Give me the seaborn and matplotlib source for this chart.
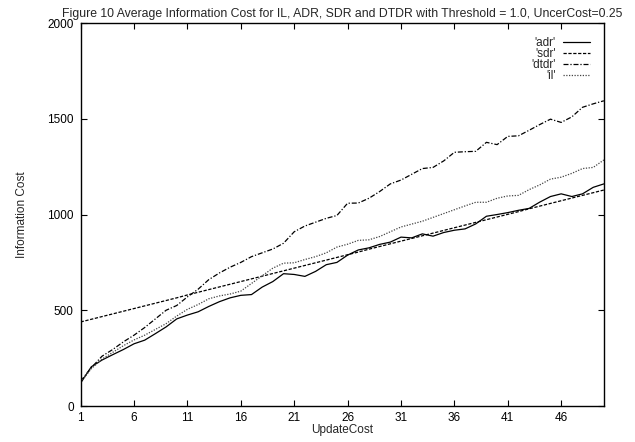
import numpy as np
import pandas as pd
import matplotlib
matplotlib.use("Agg")
import matplotlib.pyplot as plt
import seaborn as sns

# values (UpdateCost = 1..50)
update_cost = list(range(1, 51))
adr = [120, 205, 240, 268, 295, 325, 344, 378, 413, 455,
       475, 492, 520, 545, 565, 578, 582, 621, 650, 691,
       687, 677, 703, 738, 750, 788, 815, 826, 844, 856,
       882, 878, 899, 887, 906, 918, 925, 951, 991, 1000,
       1010, 1022, 1032, 1065, 1094, 1108, 1094, 1108, 1142, 1160]
sdr = [439, 453, 467, 481, 495, 509, 523, 537, 551, 565,
       580, 594, 608, 622, 636, 650, 664, 678, 692, 706,
       720, 734, 748, 762, 776, 790, 804, 819, 833, 847,
       861, 875, 889, 903, 917, 931, 945, 959, 973, 987,
       1001, 1015, 1030, 1044, 1058, 1072, 1086, 1100, 1114, 1128]
dtdr = [130, 200, 260, 295, 335, 370, 410, 455, 500, 525,
        570, 610, 660, 695, 725, 750, 780, 800, 820, 850,
        910, 940, 960, 980, 995, 1059, 1060, 1085, 1120, 1160,
        1180, 1210, 1240, 1246, 1280, 1325, 1328, 1330, 1377, 1365,
        1408, 1411, 1440, 1470, 1498, 1481, 1510, 1560, 1578, 1594]
il = [125, 195, 245, 280, 315, 345, 370, 400, 430, 470,
      505, 530, 560, 575, 585, 600, 640, 680, 720, 746,
      748, 765, 780, 800, 830, 845, 865, 868, 885, 910,
      935, 950, 965, 985, 1005, 1025, 1045, 1064, 1064, 1085,
      1097, 1100, 1130, 1155, 1185, 1195, 1215, 1240, 1246, 1285]

series_names = ["'adr'", "'sdr'", "'dtdr'", "'il'"]
df = pd.DataFrame({"UpdateCost": update_cost,
                   "'adr'": adr, "'sdr'": sdr, "'dtdr'": dtdr, "'il'": il})
df_long = df.melt(id_vars="UpdateCost", var_name="series", value_name="cost")

sns.set_style("ticks")
plt.rcParams["font.family"] = ["Liberation Sans", "DejaVu Sans"]
plt.rcParams["xtick.direction"] = "in"
plt.rcParams["ytick.direction"] = "in"

fig = plt.figure(figsize=(6.35, 4.42), dpi=100)
ax = fig.add_axes([0.127, 0.0814, 0.824, 0.8665])

palette = {"'adr'": "black", "'sdr'": "black", "'dtdr'": "black", "'il'": "#444444"}
dashes = {"'adr'": "", "'sdr'": (2.6, 1.3), "'dtdr'": (4, 1.5, 1, 1.5), "'il'": (1, 1.2)}
sns.lineplot(data=df_long, x="UpdateCost", y="cost", hue="series", style="series",
             hue_order=series_names, style_order=series_names,
             palette=palette, dashes=dashes, linewidth=0.9, ax=ax)

ax.set_xlim(1, 50)
ax.set_ylim(0, 2000)
ax.set_xticks([1, 6, 11, 16, 21, 26, 31, 36, 41, 46])
ax.set_yticks([0, 500, 1000, 1500, 2000])
ax.tick_params(axis="both", labelsize=8.5, length=4, width=0.8,
               top=True, right=True, colors="black")
ax.tick_params(axis="x", pad=4)
ax.tick_params(axis="y", pad=5)
for s in ax.spines.values():
    s.set_visible(True)
    s.set_linewidth(1.0)
    s.set_color("black")

ax.set_xlabel("UpdateCost", fontsize=8.5, labelpad=0)
ax.set_ylabel("Information Cost", fontsize=8.5, labelpad=14)
ax.set_title("Figure 10 Average Information Cost for IL, ADR, SDR and DTDR with Threshold = 1.0, UncerCost=0.25",
             fontsize=8.8, pad=4)

handles, labels = ax.get_legend_handles_labels()
ax.legend(handles, labels, loc="upper right", frameon=False, markerfirst=False,
          fontsize=8.5, handlelength=2.3, labelspacing=-0.1, handletextpad=0.6,
          borderaxespad=0.8)

fig.savefig("out.png", dpi=100)
